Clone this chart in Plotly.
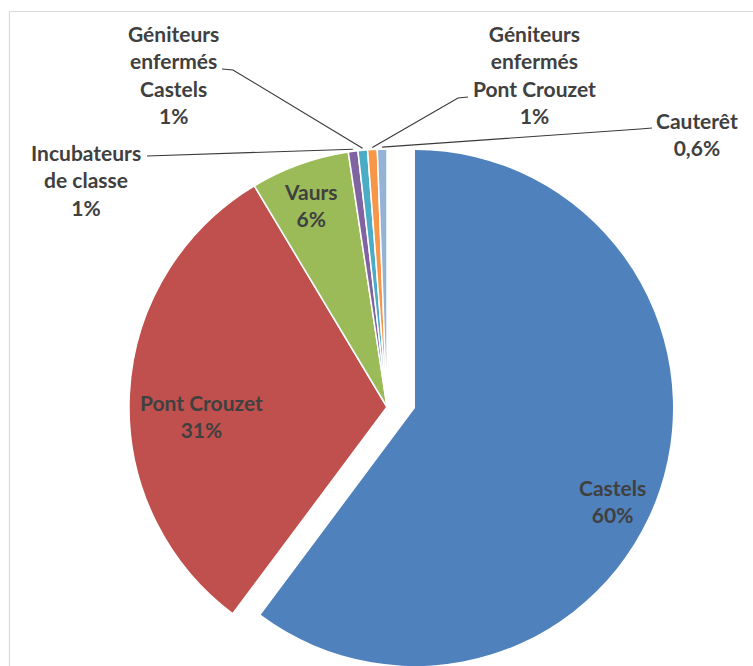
import math
import plotly.graph_objects as go

# Share of each site (percent)
labels = ["Castels", "Pont Crouzet", "Vaurs", "Incubateurs de classe",
          "Géniteurs enfermés Castels", "Géniteurs enfermés Pont Crouzet", "Cauterêt"]
label_lines = ["Castels", "Pont Crouzet", "Vaurs", "Incubateurs<br>de classe",
               "Géniteurs<br>enfermés<br>Castels", "Géniteurs<br>enfermés<br>Pont Crouzet",
               "Cauterêt"]
values = [60.2, 31.2, 6.2, 0.6, 0.6, 0.6, 0.6]
decimals = [0, 0, 0, 0, 0, 0, 1]
colors = ["#4F81BD", "#C0504D", "#9BBB59", "#8064A2", "#4BACC6", "#F79646", "#95B3D7"]

W, H = 753, 666
TRANSPARENT = "rgba(0,0,0,0)"
TEXT_COLOR = "#404040"

# Pie geometry in pixels: main pie and the detached first slice
CX, CY, R = 387, 407, 258
PX, PY = 415, 408


def fx(x):
    return x / W


def fy(y):
    return 1 - y / H


def domain(cx, cy, r):
    return dict(x=[fx(cx - r), fx(cx + r)], y=[max(0.0, fy(cy + r)), fy(cy - r)])


total = sum(values)


def pct_text(v, d):
    s = f"{v / total * 100 + 1e-9:.{d}f}".replace(".", ",")
    return s + "%"


# Label centres (pixels) and leader-line start points for the small slices
label_pos = [(612, 501), (201, 416), (311, 205), (86, 180), (173, 74), (534, 74), (697, 134)]
leader_start = {
    3: [(147, 156)],
    4: [(222, 69), (233, 70)],
    5: [(468, 97), (458, 98)],
    6: [(652, 128), (640, 129)],
}

main_colors = [TRANSPARENT] + colors[1:]
main_lines = [0] + [1.5] * (len(values) - 1)
detached_colors = [colors[0]] + [TRANSPARENT] * (len(values) - 1)

fig = go.Figure()
fig.add_trace(go.Pie(
    labels=labels, values=values, sort=False, direction="clockwise", rotation=0,
    marker=dict(colors=main_colors, line=dict(color="white", width=main_lines)),
    textinfo="none", hoverinfo="label+percent", showlegend=False,
    domain=domain(CX, CY, R),
))
fig.add_trace(go.Pie(
    labels=labels, values=values, sort=False, direction="clockwise", rotation=0,
    marker=dict(colors=detached_colors, line=dict(color="white", width=0)),
    textinfo="none", hoverinfo="skip", showlegend=False,
    domain=domain(PX, PY, R),
))

annotations = []
for i, (lab, v, d) in enumerate(zip(label_lines, values, decimals)):
    x, y = label_pos[i]
    annotations.append(dict(
        x=fx(x), y=fy(y), xref="paper", yref="paper", showarrow=False,
        xanchor="center", yanchor="middle", align="center",
        text=f"{lab}<br>{pct_text(v, d)}",
        font=dict(family="Lato", size=21, color=TEXT_COLOR, weight="bold"),
    ))

shapes = []
# Chart area border
shapes.append(dict(type="path", xref="paper", yref="paper",
                   path=f"M {fx(9.5)} {fy(H + 5)} L {fx(9.5)} {fy(11.5)} L {fx(W + 5)} {fy(11.5)}",
                   line=dict(color="#D9D9D9", width=1.2)))

# Leader lines to the outer edge of each small slice
cum = 0.0
for i, v in enumerate(values):
    mid = (cum + v / 2) / total * 2 * math.pi
    cum += v
    if i not in leader_start:
        continue
    ex = CX + (R + 2) * math.sin(mid)
    ey = CY - (R + 2) * math.cos(mid)
    pts = leader_start[i] + [(ex, ey)]
    path = "M " + " L ".join(f"{fx(px)} {fy(py)}" for px, py in pts)
    shapes.append(dict(type="path", xref="paper", yref="paper", path=path,
                       line=dict(color="#3A3A3A", width=1.2)))

fig.update_layout(
    width=W, height=H, margin=dict(l=0, r=0, t=0, b=0),
    paper_bgcolor="white", plot_bgcolor="white",
    annotations=annotations, shapes=shapes,
)

fig.write_html("out.html")
